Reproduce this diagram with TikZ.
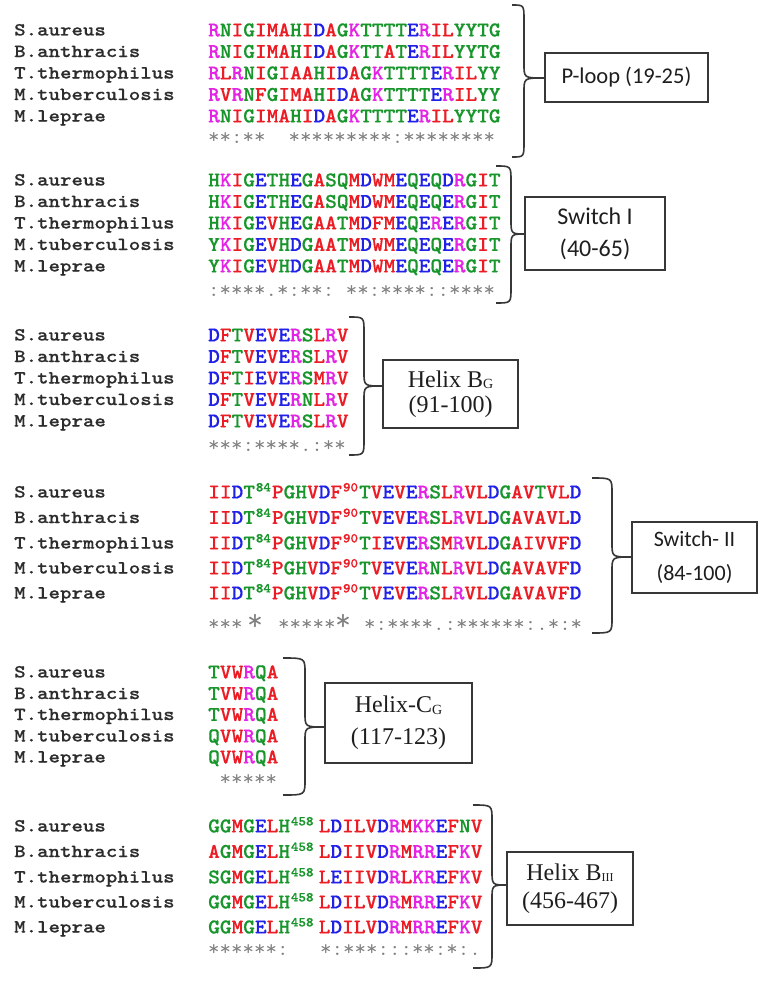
\documentclass[tikz,border=0pt]{standalone}
\usepackage{fontspec}
\usepackage{graphicx}
\newfontfamily\carl{Carlito}
\newfontfamily\lser{Liberation Serif}
\newfontfamily\seqtt{lmmonolt10-bold.otf}[FakeBold=0.6]
\newfontfamily\namett{lmmonolt10-bold.otf}[FakeBold=0.3]
\definecolor{cred}{RGB}{235,28,36}
\definecolor{cblue}{RGB}{32,32,230}
\definecolor{cmag}{RGB}{228,36,228}
\definecolor{cgreen}{RGB}{24,150,44}
\definecolor{cgray}{RGB}{128,128,128}
\definecolor{cname}{RGB}{45,45,45}
\definecolor{cline}{RGB}{55,55,55}
\definecolor{ctext}{RGB}{30,30,30}
% Clustal colour scheme
\colorlet{aaA}{cred}\colorlet{aaV}{cred}\colorlet{aaF}{cred}\colorlet{aaP}{cred}
\colorlet{aaM}{cred}\colorlet{aaI}{cred}\colorlet{aaL}{cred}\colorlet{aaW}{cred}
\colorlet{aaD}{cblue}\colorlet{aaE}{cblue}
\colorlet{aaR}{cmag}\colorlet{aaK}{cmag}
\colorlet{aaS}{cgreen}\colorlet{aaT}{cgreen}\colorlet{aaY}{cgreen}\colorlet{aaH}{cgreen}
\colorlet{aaC}{cgreen}\colorlet{aaN}{cgreen}\colorlet{aaG}{cgreen}\colorlet{aaQ}{cgreen}
\def\seqloop#1{\ifx\relax#1\else\textcolor{aa#1}{#1}\expandafter\seqloop\fi}
\newcommand\sq[1]{\seqloop#1\relax}
\newcommand\seqrow[1]{\scalebox{1.061}[1]{\seqtt\fontsize{21}{21}\selectfont #1}}
\newcommand\supn[3]{\makebox[#3][l]{\hspace{0.8pt}\raisebox{7pt}{\textcolor{#1}{\fontsize{13.5}{13.5}\selectfont #2}}}}
\def\consloop#1{\ifx\relax#1\else\conschar#1\expandafter\consloop\fi}
\def\conschar#1{\if-#1\phantom{*}\else#1\fi}
\newcommand\cons[1]{\scalebox{1.061}[1]{\color{cgray}\ttfamily\fontsize{21}{21}\selectfont\consloop#1\relax}}
\newcommand\nmtext[1]{\scalebox{1.18}[1]{\color{cname}\namett\fontsize{18.5}{18.5}\selectfont #1}}
\newcommand\alrow[4]{%
  \node[nmst] (n#1) at (14,#2+5.5) {\nmtext{#3}};%
  \node[sqst] (s#1) at (208,#2+6.4) {\seqrow{#4}};}
\newcommand\curlybr[7]{%
  \coordinate (#7) at (#3,#5);
  \draw[bracest] (#1,#4) .. controls (#2,#4) .. (#2,#4+15) -- (#2,#5-14)
     .. controls (#2,#5) .. (#7) .. controls (#2,#5) .. (#2,#5+14)
     -- (#2,#6-15) .. controls (#2,#6) .. (#1,#6);}
\begin{document}
\begin{tikzpicture}[x=1pt,y=-1pt,
  nmst/.style={anchor=base west,inner sep=0pt},
  sqst/.style={anchor=base west,inner sep=0pt},
  consst/.style={anchor=base west,inner sep=0pt},
  bigstar/.style={anchor=base,inner sep=0pt,text=cgray,font=\ttfamily\fontsize{31}{31}\selectfont},
  bracest/.style={draw=cline,line width=1.6pt},
  boxst/.style={draw=cline,line width=1.6pt,fill=white,text=ctext,align=center,inner sep=0pt}]
\useasboundingbox (0,0) rectangle (768,998);
\fill[white] (0,0) rectangle (768,998);
% ---------- Block 1: P-loop
\alrow{a1}{30}{S.aureus}{\sq{RNIGIMAHIDAGKTTTTERILYYTG}}
\alrow{a2}{51.5}{B.anthracis}{\sq{RNIGIMAHIDAGKTTATERILYYTG}}
\alrow{a3}{73}{T.thermophilus}{\sq{RLRNIGIAAHIDAGKTTTTERILYY}}
\alrow{a4}{94.5}{M.tuberculosis}{\sq{RVRNFGIMAHIDAGKTTTTERILYY}}
\alrow{a5}{116}{M.leprae}{\sq{RNIGIMAHIDAGKTTTTERILYYTG}}
\node[consst] (ca) at (208,143) {\cons{**:**--*********:********}};
\curlybr{512}{524}{544}{5}{78}{157}{tipa}
\node[boxst,minimum width=163pt,minimum height=49pt,font=\carl\fontsize{22.5}{26}\selectfont] (ba) at (626.5,77.5) {P-loop (19-25)};
% ---------- Block 2: Switch I
\alrow{b1}{180}{S.aureus}{\sq{HKIGETHEGASQMDWMEQEQDRGIT}}
\alrow{b2}{201.5}{B.anthracis}{\sq{HKIGETHEGASQMDWMEQEQERGIT}}
\alrow{b3}{223}{T.thermophilus}{\sq{HKIGEVHEGAATMDFMEQERERGIT}}
\alrow{b4}{244.5}{M.tuberculosis}{\sq{YKIGEVHDGAATMDWMEQEQERGIT}}
\alrow{b5}{266}{M.leprae}{\sq{YKIGEVHDGAATMDWMEQEQERGIT}}
\node[consst] (cb) at (208,296) {\cons{:****.*:**:-**:****::****}};
\curlybr{496}{511}{526}{166}{234}{303}{tipb}
\node[boxst,minimum width=140pt,minimum height=73pt,font=\carl\fontsize{24}{32}\selectfont] (bb) at (595,233.5) {Switch I\\(40-65)};
% ---------- Block 3: Helix BG
\alrow{c1}{335}{S.aureus}{\sq{DFTVEVERSLRV}}
\alrow{c2}{356.5}{B.anthracis}{\sq{DFTVEVERSLRV}}
\alrow{c3}{378}{T.thermophilus}{\sq{DFTIEVERSMRV}}
\alrow{c4}{399.5}{M.tuberculosis}{\sq{DFTVEVERNLRV}}
\alrow{c5}{421}{M.leprae}{\sq{DFTVEVERSLRV}}
\node[consst] (cc) at (208,451) {\cons{***:****.:**}};
\curlybr{349}{364}{383}{317}{386}{455}{tipc}
\node[boxst,minimum width=135pt,minimum height=68pt,font=\lser\fontsize{24}{25}\selectfont] (bc) at (450.5,394) {Helix B{\fontsize{14}{14}\selectfont\raisebox{-1.5pt}{G}}\\(91-100)};
% ---------- Block 4: Switch II
\alrow{d1}{492}{S.aureus}{\sq{IIDT}\supn{aaT}{84}{16pt}\sq{PGHVDF}\supn{aaF}{90}{16pt}\sq{TVEVERSLRVLDGAVTVLD}}
\alrow{d2}{517.5}{B.anthracis}{\sq{IIDT}\supn{aaT}{84}{16pt}\sq{PGHVDF}\supn{aaF}{90}{16pt}\sq{TVEVERSLRVLDGAVAVLD}}
\alrow{d3}{543}{T.thermophilus}{\sq{IIDT}\supn{aaT}{84}{16pt}\sq{PGHVDF}\supn{aaF}{90}{16pt}\sq{TIEVERSMRVLDGAIVVFD}}
\alrow{d4}{568}{M.tuberculosis}{\sq{IIDT}\supn{aaT}{84}{16pt}\sq{PGHVDF}\supn{aaF}{90}{16pt}\sq{TVEVERNLRVLDGAVAVFD}}
\alrow{d5}{593}{M.leprae}{\sq{IIDT}\supn{aaT}{84}{16pt}\sq{PGHVDF}\supn{aaF}{90}{16pt}\sq{TVEVERSLRVLDGAVAVFD}}
\node[consst] (cd1) at (208,630) {\cons{***}};
\node[bigstar] (bd1) at (255,630) {*};
\node[consst] (cd2) at (278,630) {\cons{*****}};
\node[bigstar] (bd2) at (343,630) {*};
\node[consst] (cd3) at (364,630) {\cons{*:****.:******:.*:*}};
\curlybr{592}{612}{632}{478}{557}{633}{tipd}
\node[boxst,minimum width=125pt,minimum height=71pt,font=\carl\fontsize{22}{34}\selectfont] (bd) at (694.5,557.5) {Switch- II\\(84-100)};
% ---------- Block 5: Helix-CG
\alrow{e1}{672}{S.aureus}{\sq{TVWRQA}}
\alrow{e2}{693.5}{B.anthracis}{\sq{TVWRQA}}
\alrow{e3}{714.5}{T.thermophilus}{\sq{TVWRQA}}
\alrow{e4}{736}{M.tuberculosis}{\sq{QVWRQA}}
\alrow{e5}{757}{M.leprae}{\sq{QVWRQA}}
\node[consst] (ce) at (208,785) {\cons{-*****}};
\curlybr{283}{305}{325}{658}{727}{795}{tipe}
\node[boxst,minimum width=147pt,minimum height=80pt,font=\lser\fontsize{24}{32}\selectfont] (be) at (398.5,723) {Helix-C{\fontsize{14}{14}\selectfont\raisebox{-1.5pt}{G}}\\(117-123)};
% ---------- Block 6: Helix BIII
\alrow{f1}{826}{S.aureus}{\sq{GGMGELH}\supn{aaH}{458}{27pt}\sq{LDILVDRMKKEFNV}}
\alrow{f2}{851.5}{B.anthracis}{\sq{AGMGELH}\supn{aaH}{458}{27pt}\sq{LDIIVDRMRREFKV}}
\alrow{f3}{877}{T.thermophilus}{\sq{SGMGELH}\supn{aaH}{458}{27pt}\sq{LEIIVDRLKREFKV}}
\alrow{f4}{902}{M.tuberculosis}{\sq{GGMGELH}\supn{aaH}{458}{27pt}\sq{LDILVDRMRREFKV}}
\alrow{f5}{927}{M.leprae}{\sq{GGMGELH}\supn{aaH}{458}{27pt}\sq{LDILVDRMRREFKV}}
\node[consst] (cf1) at (208,955) {\cons{******:}};
\node[consst] (cf2) at (320,955) {\cons{*:***:::**:*:.}};
\curlybr{473}{492}{508}{805}{885}{968}{tipf}
\node[boxst,minimum width=126pt,minimum height=73pt,font=\lser\fontsize{24}{28}\selectfont] (bf) at (570,888.5) {Helix B{\fontsize{12}{12}\selectfont\raisebox{-1.5pt}{III}}\\(456-467)};
\end{tikzpicture}
\end{document}
